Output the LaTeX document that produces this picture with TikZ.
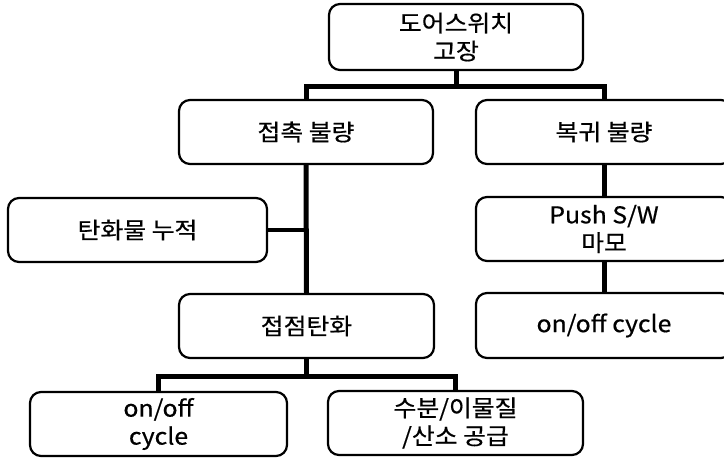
\documentclass[tikz,border=0pt]{standalone}
\usepackage{fontspec}
\setmainfont{Noto Sans CJK KR}[FakeStretch=1.08, FakeBold=0.6]
\begin{document}
\begin{tikzpicture}[x=1pt,y=-1pt,
  box/.style={draw, line width=2.2pt, rounded corners=11pt, align=center,
    inner sep=0pt, font=\fontsize{23}{28}\selectfont},
  link/.style={line width=5pt}]
\useasboundingbox (0,0) rectangle (724,458);
\clip (0,0) rectangle (724,458);
\node[box, minimum width=254pt, minimum height=66pt] (top) at (456,37) {도어스위치\\고장};
\node[box, minimum width=254pt, minimum height=64pt] (contact) at (306,132) {접촉 불량};
\node[box, minimum width=256pt, minimum height=64pt] (ret) at (604,132) {복귀 불량};
\node[box, minimum width=259pt, minimum height=64pt] (acc) at (137.5,230) {탄화물 누적};
\node[box, minimum width=255pt, minimum height=64pt] (carb) at (306.5,326) {접점탄화};
\node[box, minimum width=256pt, minimum height=64pt] (push) at (604,229) {Push S/W\\마모};
\node[box, minimum width=256pt, minimum height=65pt] (cyc) at (604,325.5) {on/off cycle};
\node[box, minimum width=257pt, minimum height=64pt] (onoff) at (158.5,424) {on/off\\cycle};
\node[box, minimum width=255pt, minimum height=64pt] (water) at (455.5,423) {수분/이물질\\/산소 공급};
\draw[link] (top.south) -- ++(0,15) -| (contact.north);
\draw[link] (top.south) -- ++(0,15) -| (ret.north);
\draw[link] (contact.south) -- (carb.north);
\draw[line width=4pt] (acc.east) -- (acc.east -| contact.south);
\draw[link] (carb.south) -- ++(0,17) -| (onoff.north);
\draw[link] (carb.south) -- ++(0,17) -| (water.north);
\draw[link] (ret.south) -- (push.north);
\draw[link] (push.south) -- (cyc.north);
\end{tikzpicture}
\end{document}
